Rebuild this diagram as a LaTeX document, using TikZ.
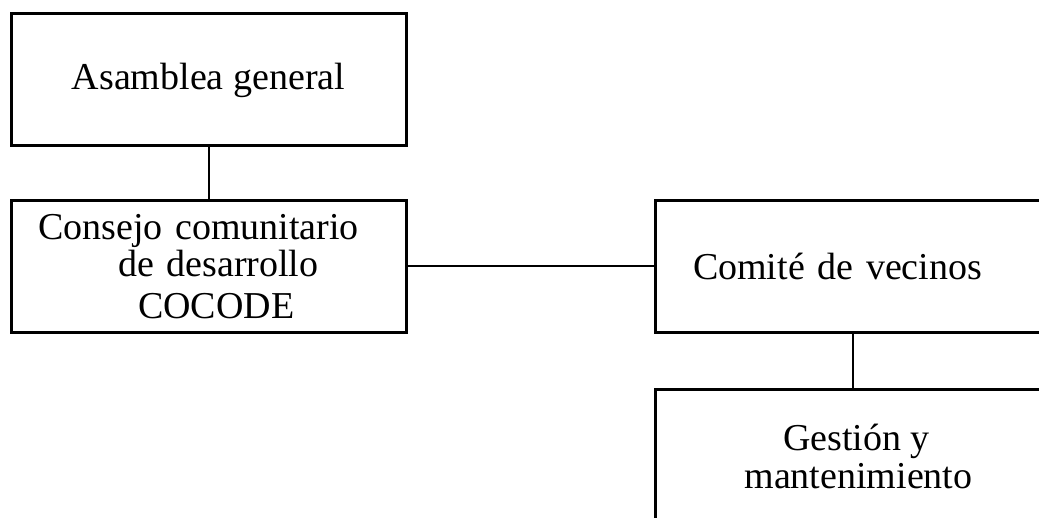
\documentclass[tikz,border=0pt]{standalone}
\usepackage{fontspec}
\setmainfont{Liberation Serif}
\usetikzlibrary{positioning}

\begin{document}
\begin{tikzpicture}[
        x=1pt,
        y=-1pt,
        orgbox/.style={
                draw,
                line width=3pt,
                rectangle,
                minimum width=395pt,
                minimum height=132pt,
                font=\fontsize{38}{38}\selectfont
                },
        link/.style={
                line width=2pt
                }
        ]

%page
\useasboundingbox (0,0) rectangle (1039,518);
\clip (0,0) rectangle (1039,518);

%boxes
\node [orgbox] at (208.5,80) (asamblea) {Asamblea general};

\node [
        orgbox,
        align=left,
        inner xsep=27pt,
        text width=341pt
        ] at (208.5,266.5) (consejo)
        {Consejo comunitario\\[-1pt]
        \hspace*{80pt}de desarrollo\\[4pt]
        \hspace*{100pt}COCODE};

\node [
        orgbox,
        align=left,
        inner xsep=38pt,
        text width=319pt
        ] at (852.5,266.5) (comite) {Comité de vecinos};

\node [
        orgbox,
        align=center
        ] at (852.5,456) (gestion)
        {\hspace*{8pt}Gestión y\\ \hspace*{12pt}mantenimiento};

%connectors
\draw [link] (asamblea.south) -- (consejo.north);
\draw [link] (consejo.east) -- (comite.west);
\draw [link] (comite.south) -- (gestion.north);

\end{tikzpicture}
\end{document}
